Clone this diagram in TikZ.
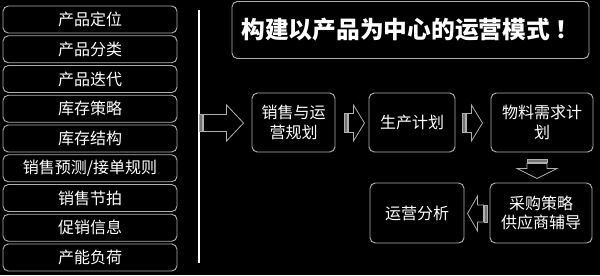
\documentclass[tikz,border=0pt]{standalone}
\usepackage{fontspec}
\setmainfont{Noto Sans CJK SC}
\usetikzlibrary{positioning,calc}

\definecolor{boxgray}{RGB}{175,175,175}
\def\px{0.75pt}

\tikzset{
  panel/.style={draw=boxgray, line width=0.7pt, rounded corners=4pt, text=white,
    inner sep=0pt, align=center, font=\fontsize{12}{14.5}\selectfont},
  arrowline/.style={draw=boxgray, line width=0.6pt, line join=miter},
  stripe/.style={draw=boxgray, line width=0.5pt, fill=white!45!black},
}

% ---- \panelbox{name}{x1}{y1}{x2}{y2}{text}
\newcommand{\panelbox}[6]{
  \node[panel, minimum width={(#4-#2)*\px}, minimum height={(#5-#3)*\px}]
       (#1) at ({(#2+#4)/2},{(#3+#5)/2}) {#6};
}
% ---- \blockarrow{tail}{angle}{length}{head base}{shaft half}{head half}
\newcommand{\blockarrow}[6]{
  \begin{scope}[shift={#1}, rotate=#2]
    \draw[stripe] (0,-#5) rectangle (3,#5);
    \draw[arrowline] (4,-#5) -- (#4,-#5) -- (#4,-#6) -- (#3,0)
         -- (#4,#6) -- (#4,#5) -- (4,#5) -- cycle;
  \end{scope}
}

\begin{document}
\begin{tikzpicture}[x=0.75pt,y=-0.75pt]

% background
\fill[black] (0,0) rectangle (600,275);
\useasboundingbox (0,0) rectangle (600,275);

% ---- left column
\foreach \t [count=\i] in
  {产品定位,产品分类,产品迭代,库存策略,库存结构,销售预测/接单规则,销售节拍,促销信息,产能负荷} {
    \pgfmathsetmacro{\top}{6+(\i-1)*29.75}
    \pgfmathsetmacro{\bot}{\top+27}
    \panelbox{l\i}{3}{\top}{177}{\bot}{\t}
}

% divider
\coordinate (divtop) at (199,10);
\coordinate (divbot) at (199,263);
\draw[white, line width=1.4pt] (divtop) -- (divbot);

% ---- title
\node[panel, minimum width={357*\px}, minimum height={57*\px},
      font=\bfseries\fontsize{17.8}{20}\selectfont]
     (title) at (410.5,30) {构建以产品为中心的运营模式\hspace{0.25em}！};

% ---- flow boxes
\panelbox{sop}{252}{93}{335}{152}{销售与运\\营规划}
\panelbox{prod}{369}{93}{455}{152}{生产计划}
\panelbox{mrp}{491}{93}{593}{152}{物料需求计\\划}
\panelbox{purch}{490}{183}{592}{243}{采购策略\\供应商辅导}
\panelbox{anal}{370}{183}{464}{243}{运营分析}

% ---- block arrows
\blockarrow{($(sop.west)+(-52,0.5)$)}{0}{44}{27}{8.5}{18}
\blockarrow{($(sop.east)+(9,0.5)$)}{0}{20}{9}{9.5}{18}
\blockarrow{($(prod.east)+(7,0.5)$)}{0}{20}{9}{9.5}{18}
\blockarrow{($(mrp.south)+(-5,7)$)}{-90}{19}{9}{10}{20}
\blockarrow{($(purch.west)+(-2,0.5)$)}{180}{20}{10}{8.5}{17.5}

\end{tikzpicture}
\end{document}
